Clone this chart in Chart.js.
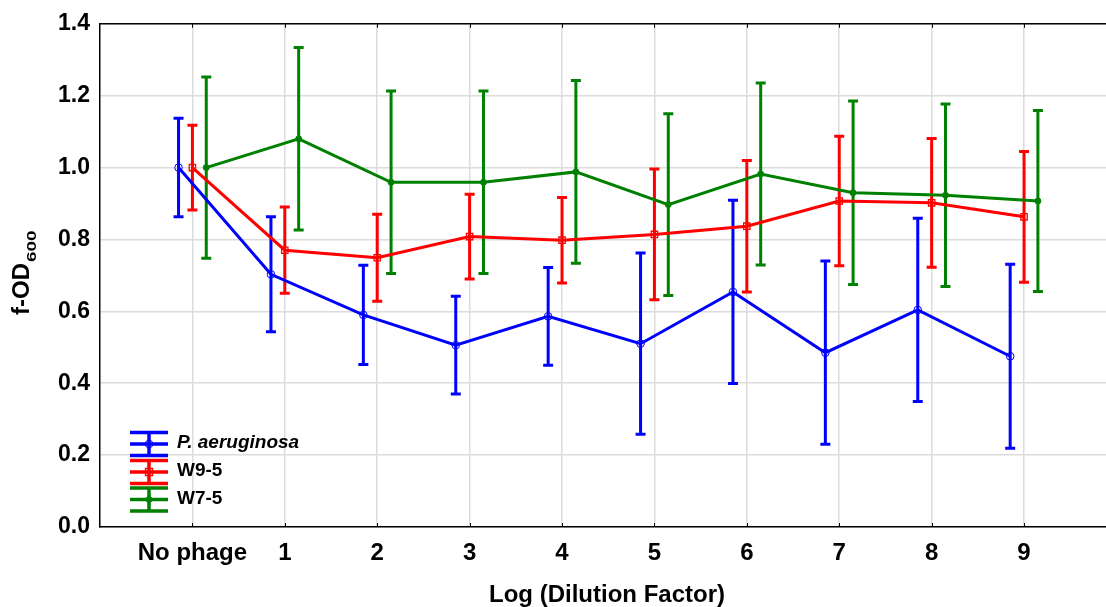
<!DOCTYPE html>
<html>
<head>
<meta charset="utf-8">
<script src="https://cdn.jsdelivr.net/npm/chart.js@4.4.1/dist/chart.umd.min.js"></script>
<style>
  html, body { margin: 0; padding: 0; background: #ffffff; overflow: hidden; }
  #wrap { width: 1106px; height: 607px; overflow: hidden; }
  #c { display: block; }
</style>
</head>
<body>
<div id="wrap"><canvas id="c" width="1113" height="607"></canvas></div>
<script>
// Dilution steps on the x axis
const categories = ['No phage', '1', '2', '3', '4', '5', '6', '7', '8', '9'];

// P. aeruginosa alone: mean f-OD600 and error
const paMean = [1.000, 0.703, 0.590, 0.506, 0.586, 0.510, 0.654, 0.485, 0.604, 0.475];
const paErr  = [0.137, 0.160, 0.138, 0.136, 0.136, 0.252, 0.255, 0.255, 0.255, 0.256];

// Phage W9-5
const w95Mean = [1.000, 0.770, 0.749, 0.808, 0.798, 0.814, 0.837, 0.907, 0.902, 0.863];
const w95Err  = [0.118, 0.120, 0.121, 0.118, 0.119, 0.182, 0.183, 0.180, 0.179, 0.182];

// Phage W7-5
const w75Mean = [1.000, 1.080, 0.959, 0.959, 0.988, 0.897, 0.982, 0.930, 0.923, 0.907];
const w75Err  = [0.252, 0.254, 0.254, 0.254, 0.254, 0.253, 0.253, 0.255, 0.254, 0.252];

// y tick labels
const yTicks = [0.0, 0.2, 0.4, 0.6, 0.8, 1.0, 1.2, 1.4];

const FONT = '"Liberation Sans", Arial, Helvetica, sans-serif';

const series = [
  { label: 'P. aeruginosa', italic: true, mean: paMean, err: paErr, color: '#0000ff', shift: -0.15, style: 'circle', radius: 3.8, fill: 'rgba(0,0,0,0)', bw: 1 },
  { label: 'W9-5', italic: false, mean: w95Mean, err: w95Err, color: '#ff0000', shift: 0, style: 'rect', radius: 4.5, fill: 'rgba(0,0,0,0)', bw: 1.3 },
  { label: 'W7-5', italic: false, mean: w75Mean, err: w75Err, color: '#008000', shift: 0.15, style: 'circle', radius: 3, fill: '#008000', bw: 1 }
];

const datasets = series.map(s => ({
  label: s.label,
  data: s.mean.map((v, i) => ({ x: i + s.shift, y: v })),
  borderColor: s.color,
  backgroundColor: s.fill,
  borderWidth: 3,
  pointStyle: s.style,
  pointRadius: s.radius,
  pointBorderColor: s.color,
  pointBackgroundColor: s.fill,
  pointBorderWidth: s.bw,
  tension: 0,
  clip: false
}));

// Error bars, frame ticks, axis titles and legend
const decorations = {
  id: 'decorations',
  beforeDatasetsDraw(chart) {
    const ctx = chart.ctx, xs = chart.scales.x, ys = chart.scales.y;
    ctx.save();
    ctx.lineWidth = 3;
    ctx.lineCap = 'butt';
    series.forEach(s => {
      ctx.strokeStyle = s.color;
      s.mean.forEach((m, i) => {
        const px = xs.getPixelForValue(i + s.shift);
        const top = ys.getPixelForValue(m + s.err[i]);
        const bot = ys.getPixelForValue(m - s.err[i]);
        ctx.beginPath();
        ctx.moveTo(px, top); ctx.lineTo(px, bot);
        ctx.moveTo(px - 5, top); ctx.lineTo(px + 5, top);
        ctx.moveTo(px - 5, bot); ctx.lineTo(px + 5, bot);
        ctx.stroke();
      });
    });
    ctx.restore();
  },
  afterDraw(chart) {
    const ctx = chart.ctx, a = chart.chartArea, xs = chart.scales.x;
    ctx.save();
    // top frame line
    ctx.strokeStyle = '#000';
    ctx.lineWidth = 1.5;
    ctx.beginPath();
    ctx.moveTo(a.left, a.top); ctx.lineTo(chart.width, a.top);
    ctx.moveTo(a.right, a.bottom); ctx.lineTo(chart.width, a.bottom);
    ctx.stroke();
    // short inward ticks on top and bottom
    ctx.lineWidth = 1;
    categories.forEach((c, i) => {
      const px = Math.round(xs.getPixelForValue(i)) + 0.5;
      ctx.beginPath();
      ctx.moveTo(px, a.bottom); ctx.lineTo(px, a.bottom - 4);
      ctx.moveTo(px, a.top); ctx.lineTo(px, a.top + 4);
      ctx.stroke();
    });

    // x axis title
    ctx.fillStyle = '#000';
    ctx.font = 'bold 24px ' + FONT;
    ctx.textAlign = 'center';
    ctx.textBaseline = 'alphabetic';
    ctx.fillText('Log (Dilution Factor)', 607, 602);

    // y axis title with subscript
    ctx.save();
    ctx.translate(29, 315);
    ctx.rotate(-Math.PI / 2);
    ctx.textAlign = 'left';
    ctx.font = 'bold 24px ' + FONT;
    ctx.fillText('f-OD', 0, 0);
    const w = ctx.measureText('f-OD').width;
    ctx.translate(w + 1, 7);
    ctx.scale(1.45, 1);
    ctx.font = 'bold 13px ' + FONT;
    ctx.fillText('600', 0, 0);
    ctx.restore();

    // legend
    const rows = [444, 472, 499.5];
    series.forEach((s, k) => {
      const cy = rows[k];
      ctx.strokeStyle = s.color;
      ctx.lineWidth = 3.5;
      ctx.beginPath();
      ctx.moveTo(130, cy - 11.5); ctx.lineTo(168, cy - 11.5);
      ctx.moveTo(130, cy); ctx.lineTo(168, cy);
      ctx.moveTo(130, cy + 11.5); ctx.lineTo(168, cy + 11.5);
      ctx.moveTo(149, cy - 11.5); ctx.lineTo(149, cy + 11.5);
      ctx.stroke();
      ctx.lineWidth = s.bw;
      ctx.beginPath();
      if (s.style === 'rect') {
        ctx.rect(149 - 3.5, cy - 3.5, 7, 7);
      } else {
        ctx.arc(149, cy, s.radius, 0, Math.PI * 2);
      }
      if (s.fill !== 'rgba(0,0,0,0)') { ctx.fillStyle = s.fill; ctx.fill(); }
      ctx.stroke();
      ctx.fillStyle = '#000';
      ctx.textAlign = 'left';
      ctx.textBaseline = 'alphabetic';
      ctx.font = (s.italic ? 'italic ' : '') + 'bold 19px ' + FONT;
      ctx.fillText(s.label, 177, cy + 4);
    });
    ctx.restore();
  }
};

new Chart(document.getElementById('c'), {
  type: 'line',
  data: { datasets },
  options: {
    responsive: false,
    animation: false,
    events: [],
    layout: { padding: { top: 22, right: 0, left: 0, bottom: 0 } },
    plugins: { legend: { display: false }, tooltip: { enabled: false } },
    scales: {
      x: {
        type: 'linear',
        min: -1,
        max: 9.9,
        afterBuildTicks: s => { s.ticks = categories.map((c, i) => ({ value: i })); },
        afterFit: s => { s.height = 80; },
        ticks: {
          autoSkip: false,
          maxRotation: 0,
          padding: 12,
          color: '#000',
          font: { family: FONT, size: 24, weight: 'bold' },
          callback: v => categories[v]
        },
        grid: { color: '#dcdcdc', lineWidth: 1.5, drawTicks: false },
        border: { color: '#000', width: 1.5 }
      },
      y: {
        min: 0,
        max: 1.4,
        afterBuildTicks: s => { s.ticks = yTicks.map(v => ({ value: v })); },
        afterFit: s => { s.width = 100; },
        ticks: {
          padding: 10,
          color: '#000',
          font: { family: FONT, size: 23, weight: 'bold' },
          callback: v => v.toFixed(1)
        },
        grid: { color: '#dcdcdc', lineWidth: 1.5, drawTicks: false },
        border: { color: '#000', width: 1.5 }
      }
    }
  },
  plugins: [decorations]
});
</script>
</body>
</html>
